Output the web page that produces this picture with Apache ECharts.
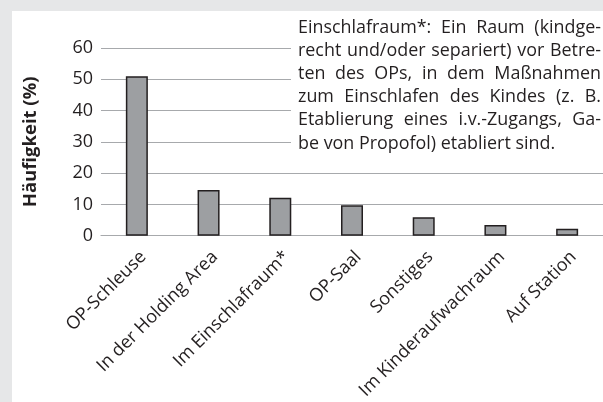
<!DOCTYPE html>
<html>
<head>
<meta charset="utf-8">
<script src="https://cdn.jsdelivr.net/npm/echarts@6/dist/echarts.min.js"></script>
<style>
	html, body { margin: 0; padding: 0; background: #e6e7e8; }
	#chart { width: 603px; height: 402px; }
</style>
</head>
<body>
<div id="chart"></div>
<script>
	// Kategorien und Werte (Häufigkeit in %)
	var categories = ['OP-Schleuse', 'In der Holding Area', 'Im Einschlafraum*', 'OP-Saal', 'Sonstiges', 'Im Kinderaufwachraum', 'Auf Station'];
	var values = [51, 14.6, 12.1, 9.7, 5.9, 3.4, 2.2];
	// Fußnote, Zeilen wie im Original umbrochen
	var noteLines = [
		'Einschlafraum*: Ein Raum (kindge-',
		'recht und/oder separiert) vor Betre-',
		'ten des OPs, in dem Maßnahmen',
		'zum Einschlafen des Kindes (z. B.',
		'Etablierung eines i.v.-Zugangs, Ga-',
		'be von Propofol) etabliert sind.'
	];

	var chart = echarts.init(document.getElementById('chart'));
	var fam = '"Open Sans"';
	var noteLeft = 298, noteRight = 601, noteTop = 28, noteLineH = 23.1;

	// Schriftgröße so wählen, dass die letzte Zeile ca. 257px breit ist
	var ctx = document.createElement('canvas').getContext('2d');
	ctx.font = '100px ' + fam;
	var noteSize = Math.round(257 / ctx.measureText(noteLines[noteLines.length - 1]).width * 1000) / 10;
	var noteFont = noteSize + 'px ' + fam;
	ctx.font = noteFont;

	// Blocksatz: Wörter je Zeile einzeln setzen
	var noteEls = [];
	noteLines.forEach(function (line, i) {
		var words = line.split(' ');
		var wsum = 0;
		words.forEach(function (w) { wsum += ctx.measureText(w).width; });
		var gap = ctx.measureText(' ').width;
		if (i < noteLines.length - 1 && words.length > 1) {
			gap = (noteRight - noteLeft - wsum) / (words.length - 1);
		}
		var x = noteLeft;
		words.forEach(function (w) {
			noteEls.push({
				type: 'text',
				z: 100,
				x: x,
				y: noteTop + i * noteLineH,
				style: {
					text: w,
					font: noteFont,
					fill: '#231f20',
					textVerticalAlign: 'middle'
				}
			});
			x += ctx.measureText(w).width + gap;
		});
	});

	var option = {
		backgroundColor: '#e6e7e8',
		animation: false,
		graphic: [{
			type: 'rect',
			z: -10,
			shape: { x: 12, y: 11, width: 600, height: 400 },
			style: { fill: '#ffffff' }
		}, {
			type: 'rect',
			z: 99,
			shape: { x: 291, y: 12, width: 312, height: 156 },
			style: { fill: '#ffffff' }
		}].concat(noteEls),
		grid: {
			left: 101,
			right: 0,
			top: 48,
			bottom: 165
		},
		xAxis: {
			type: 'category',
			data: categories,
			axisLine: { lineStyle: { color: '#a7a9ac', width: 1.2 } },
			axisTick: { show: false },
			axisLabel: {
				interval: 0,
				rotate: 45,
				margin: 12,
				verticalAlign: 'top',
				fontFamily: 'Open Sans',
				fontSize: 18,
				color: '#231f20'
			}
		},
		yAxis: {
			type: 'value',
			min: 0,
			max: 60,
			interval: 10,
			name: 'Häufigkeit (%)',
			nameLocation: 'middle',
			nameGap: 61,
			nameTextStyle: {
				fontFamily: 'Open Sans',
				fontWeight: 'bold',
				fontSize: 18.5,
				color: '#231f20'
			},
			axisLine: { show: false },
			axisTick: { show: false },
			axisLabel: {
				margin: 8,
				fontFamily: 'Open Sans',
				fontSize: 18,
				color: '#231f20'
			},
			splitLine: { lineStyle: { color: '#a7a9ac', width: 1.2 } }
		},
		series: [{
			type: 'bar',
			data: values,
			barWidth: 22,
			itemStyle: {
				color: '#9d9fa2',
				borderColor: '#231f20',
				borderWidth: 1.5
			}
		}]
	};
	chart.setOption(option);
</script>
</body>
</html>
